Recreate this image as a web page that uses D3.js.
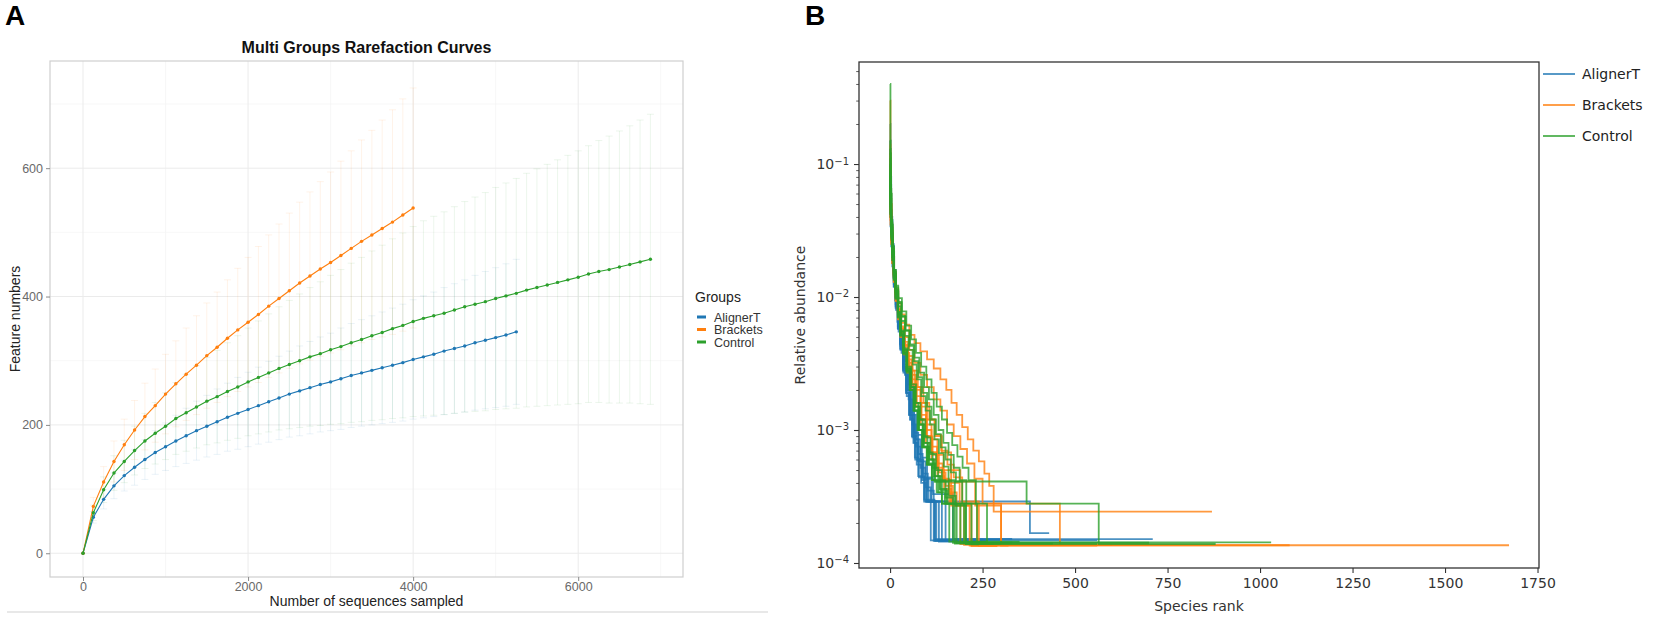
<!DOCTYPE html>
<html>
<head>
<meta charset="utf-8">
<script src="https://cdn.jsdelivr.net/npm/d3@7"></script>
<style>
  body { margin: 0; background: #fff; }
  svg { display: block; }
</style>
</head>
<body>
<div id="d3-container"></div>
<script>
/**
 * CONSTANTS
 * */
const width = 1654, height = 624;

const groups = ["AlignerT", "Brackets", "Control"];
const colors = ["#1f77b4", "#ff7f0e", "#2ca02c"];

/**
 * PANEL A DATA - rarefaction (mean +/- sd per sampling depth)
 * */
const depths = [0,125,250,375,500,625,750,875,1000,1125,1250,1375,1500,1625,1750,1875,
  2000,2125,2250,2375,2500,2625,2750,2875,3000,3125,3250,3375,3500,3625,3750,3875,
  4000,4125,4250,4375,4500,4625,4750,4875,5000,5125,5250,5375,5500,5625,5750,5875,
  6000,6125,6250,6375,6500,6625,6750,6875];

const alignerMean = [0,56,84,105,121,134,146,157,166,175,183,191,198,205,212,218,224,230,236,242,
  248,253,258,263,267,272,277,281,285,289,293,297,302,306,310,315,319,323,328,332,336,340,345];
const bracketsMean = [0,73,111,143,169,192,213,230,248,264,279,293,308,321,335,348,360,372,385,397,
  409,421,432,443,453,464,475,486,496,506,516,527,538];
const controlMean = [0,63,99,125,143,160,175,187,198,210,219,228,237,244,252,259,267,274,281,288,
  294,300,306,311,317,322,328,333,339,344,350,355,361,366,370,374,379,384,388,392,397,401,405,410,
  414,418,422,426,430,435,439,442,446,450,454,458];

const alignerSd = [0,9,15,20,24,28,31,34,37,40,43,46,48,51,53,56,58,60,63,65,67,70,72,74,76,79,
  81,83,85,87,89,91,93,95,97,99,101,103,105,107,109,111,113];
const bracketsSd = [0,14,24,32,40,46,52,57,62,67,72,77,82,86,91,96,101,106,111,116,121,126,131,
  136,141,147,152,158,163,169,175,181,187];
const controlSd = [0,12,20,27,33,38,43,48,52,56,60,64,68,72,76,80,84,88,92,96,100,104,108,112,116,
  120,124,128,132,136,140,144,148,152,155,158,161,164,167,170,173,176,179,182,185,188,191,194,197,
  200,204,208,212,216,221,226];

const xTicksA = [0, 2000, 4000, 6000];
const xMinorA = [1000, 3000, 5000, 7000];
const yTicksA = [0, 200, 400, 600];
const yMinorA = [100, 300, 500, 700];

/**
 * PANEL B DATA - rank abundance, one array of [rank, relative abundance] per sample
 * (abundance holds from that rank on, last pair closes the tail)
 * */
const alignerSamples = [
  [[0,0.15],[1,0.07],[2,0.045],[4,0.03],[7,0.02],[11,0.013],[16,0.0088],[22,0.006],[29,0.0041],[36,0.0028],[44,0.0019],[52,0.0013],[60,0.00088],[68,0.0006],[78,0.00044],[92,0.0003],[120,0.000151],[710,0.000151]],
  [[0,0.09],[1,0.05],[3,0.03],[6,0.019],[10,0.013],[15,0.0088],[21,0.006],[28,0.0041],[35,0.0028],[43,0.0019],[51,0.0013],[59,0.0009],[67,0.00062],[76,0.00045],[92,0.00029],[378,0.000168],[430,0.000168]],
  [[0,0.2],[1,0.08],[3,0.04],[6,0.024],[10,0.015],[15,0.0098],[21,0.0065],[28,0.0043],[36,0.0029],[45,0.0019],[55,0.0012],[65,0.0008],[75,0.00058],[88,0.00044],[100,0.00029],[118,0.000147],[260,0.000147]],
  [[0,0.06],[1,0.04],[3,0.027],[6,0.018],[10,0.012],[16,0.008],[23,0.0055],[31,0.0038],[40,0.0026],[50,0.0017],[60,0.0011],[70,0.00075],[82,0.00052],[95,0.00037],[110,0.00029],[132,0.000145],[230,0.000145]],
  [[0,0.11],[1,0.06],[3,0.036],[6,0.023],[10,0.015],[15,0.01],[22,0.0068],[30,0.0046],[39,0.0031],[49,0.002],[59,0.0013],[70,0.00085],[82,0.00058],[96,0.00043],[112,0.00029],[150,0.000149],[300,0.000149]],
  [[0,0.08],[1,0.045],[3,0.03],[5,0.02],[9,0.014],[14,0.0095],[20,0.0065],[27,0.0044],[35,0.003],[44,0.002],[54,0.00135],[64,0.0009],[74,0.0006],[86,0.00042],[98,0.00029],[122,0.000146],[200,0.000146]],
  [[0,0.13],[1,0.065],[3,0.038],[6,0.025],[10,0.016],[15,0.011],[22,0.0072],[30,0.0049],[40,0.0033],[51,0.0022],[62,0.0014],[74,0.00092],[86,0.00062],[100,0.00044],[116,0.00033],[170,0.000152],[330,0.000152]],
  [[0,0.07],[1,0.042],[3,0.028],[6,0.019],[10,0.0125],[15,0.0085],[21,0.0058],[28,0.004],[36,0.0027],[45,0.0018],[54,0.0012],[63,0.0008],[72,0.00055],[84,0.0004],[96,0.00029],[110,0.000148],[560,0.000148]],
  [[0,0.1],[1,0.055],[3,0.033],[6,0.021],[10,0.014],[15,0.0095],[21,0.0066],[28,0.0045],[36,0.003],[45,0.002],[55,0.0013],[66,0.00085],[77,0.0006],[90,0.00043],[104,0.00029],[125,0.00015],[250,0.00015]],
  [[0,0.05],[1,0.034],[3,0.024],[6,0.017],[10,0.012],[15,0.0083],[21,0.0058],[28,0.0041],[36,0.0029],[45,0.002],[55,0.0014],[65,0.00095],[76,0.00066],[88,0.00047],[102,0.00035],[118,0.00029],[140,0.000146],[210,0.000146]]
];
const bracketsSamples = [
  [[0,0.3],[1,0.1],[2,0.05],[4,0.03],[7,0.02],[11,0.014],[16,0.0098],[22,0.007],[30,0.0051],[40,0.0038],[52,0.0028],[66,0.0021],[82,0.0016],[100,0.0012],[120,0.0009],[140,0.00068],[165,0.0005],[190,0.00041],[230,0.00027],[300,0.000136],[1673,0.000136]],
  [[0,0.07],[1,0.04],[3,0.027],[6,0.019],[10,0.0145],[15,0.0115],[22,0.009],[30,0.0074],[40,0.0062],[52,0.0052],[66,0.0045],[82,0.0039],[100,0.0034],[118,0.0029],[136,0.0024],[152,0.002],[166,0.0016],[180,0.0013],[195,0.00105],[210,0.00085],[225,0.0007],[240,0.00058],[255,0.00047],[268,0.00038],[280,0.000243],[870,0.000243]],
  [[0,0.1],[1,0.05],[3,0.032],[6,0.021],[10,0.015],[15,0.011],[22,0.0082],[30,0.0064],[40,0.005],[52,0.004],[66,0.0032],[82,0.0026],[100,0.0021],[118,0.0017],[136,0.0014],[154,0.0011],[172,0.0009],[190,0.00072],[208,0.00056],[228,0.00043],[250,0.00028],[300,0.000136],[1080,0.000136]],
  [[0,0.05],[1,0.035],[3,0.025],[6,0.018],[10,0.013],[15,0.0095],[21,0.007],[29,0.0052],[38,0.0039],[48,0.0029],[60,0.0022],[72,0.0016],[85,0.0012],[100,0.00088],[115,0.00065],[132,0.00048],[150,0.00038],[170,0.00027],[215,0.000135],[560,0.000135]],
  [[0,0.12],[1,0.06],[3,0.034],[6,0.022],[10,0.015],[15,0.0105],[21,0.0075],[28,0.0055],[37,0.004],[47,0.003],[58,0.0022],[70,0.0016],[83,0.0012],[97,0.0009],[112,0.00068],[128,0.0005],[146,0.00042],[165,0.00028],[200,0.000137],[270,0.000137]],
  [[0,0.09],[1,0.05],[3,0.031],[6,0.021],[10,0.0145],[15,0.0102],[21,0.0074],[29,0.0054],[38,0.004],[48,0.003],[59,0.0022],[71,0.0016],[84,0.0012],[98,0.0009],[112,0.00068],[127,0.00052],[143,0.00042],[160,0.00028],[459,0.000138],[700,0.000138]],
  [[0,0.06],[1,0.038],[3,0.026],[6,0.018],[10,0.013],[15,0.0093],[21,0.0068],[28,0.005],[37,0.0037],[47,0.0027],[58,0.002],[70,0.0015],[83,0.0011],[97,0.0008],[112,0.0006],[128,0.00045],[146,0.00036],[165,0.00027],[190,0.000139],[310,0.000139]],
  [[0,0.14],[1,0.065],[3,0.036],[6,0.023],[10,0.0155],[15,0.011],[21,0.008],[28,0.0058],[37,0.0043],[47,0.0032],[58,0.0024],[70,0.0018],[83,0.0013],[97,0.001],[112,0.00075],[127,0.00056],[142,0.00043],[160,0.00034],[180,0.00027],[220,0.000134],[290,0.000134]],
  [[0,0.08],[1,0.045],[3,0.03],[6,0.02],[10,0.0145],[15,0.0106],[21,0.0079],[29,0.006],[38,0.0046],[49,0.0036],[61,0.0028],[75,0.0021],[90,0.0016],[106,0.0012],[122,0.00092],[138,0.0007],[155,0.00055],[172,0.00044],[195,0.00029],[240,0.000135],[320,0.000135]],
  [[0,0.11],[1,0.055],[3,0.033],[6,0.022],[10,0.015],[15,0.0108],[21,0.0078],[28,0.0058],[37,0.0044],[47,0.0034],[58,0.0026],[70,0.002],[83,0.0015],[97,0.0011],[112,0.00085],[128,0.00065],[145,0.0005],[165,0.0004],[188,0.00028],[235,0.000137],[600,0.000137]]
];
const controlSamples = [
  [[0,0.4],[1,0.12],[2,0.06],[4,0.035],[7,0.022],[11,0.015],[16,0.0105],[22,0.0075],[29,0.0055],[37,0.004],[46,0.0029],[56,0.0021],[67,0.0015],[79,0.0011],[92,0.0008],[106,0.0006],[120,0.00045],[136,0.00035],[155,0.00028],[190,0.000143],[1030,0.000143]],
  [[0,0.1],[1,0.055],[3,0.033],[6,0.022],[10,0.015],[15,0.0105],[21,0.0074],[28,0.0053],[36,0.0039],[45,0.0028],[55,0.002],[66,0.0014],[78,0.001],[90,0.00075],[104,0.00055],[120,0.00041],[369,0.00028],[564,0.000139],[880,0.000139]],
  [[0,0.07],[1,0.042],[3,0.028],[6,0.019],[10,0.0135],[15,0.0097],[21,0.007],[28,0.0051],[36,0.0037],[45,0.0027],[55,0.002],[66,0.0014],[78,0.001],[91,0.00075],[105,0.00056],[122,0.00041],[140,0.00028],[175,0.00014],[300,0.00014]],
  [[0,0.15],[1,0.07],[3,0.038],[6,0.024],[10,0.016],[15,0.011],[21,0.0077],[28,0.0055],[36,0.004],[45,0.0029],[55,0.0021],[66,0.0015],[77,0.0011],[89,0.0008],[102,0.0006],[117,0.00045],[134,0.00036],[152,0.00028],[180,0.000141],[250,0.000141]],
  [[0,0.09],[1,0.05],[3,0.031],[6,0.021],[10,0.0145],[15,0.0102],[21,0.0073],[28,0.0052],[36,0.0038],[44,0.0028],[53,0.002],[63,0.0014],[74,0.001],[86,0.00074],[99,0.00055],[113,0.00042],[130,0.00034],[148,0.00028],[170,0.000142],[700,0.000142]],
  [[0,0.06],[1,0.04],[3,0.027],[6,0.019],[10,0.0135],[15,0.0098],[21,0.0071],[28,0.0052],[36,0.0038],[45,0.0028],[55,0.0021],[65,0.0016],[76,0.0012],[88,0.0009],[101,0.00068],[115,0.00052],[130,0.00042],[150,0.00031],[170,0.00028],[200,0.000144],[260,0.000144]],
  [[0,0.12],[1,0.06],[3,0.035],[6,0.023],[10,0.0155],[15,0.0108],[21,0.0077],[28,0.0056],[37,0.0041],[47,0.003],[58,0.0022],[70,0.0016],[82,0.0012],[95,0.00088],[109,0.00066],[124,0.0005],[140,0.00041],[158,0.00032],[178,0.00027],[205,0.000139],[560,0.000139]],
  [[0,0.08],[1,0.046],[3,0.03],[6,0.02],[10,0.014],[15,0.01],[21,0.0072],[28,0.0052],[36,0.0038],[45,0.0028],[55,0.002],[65,0.0014],[76,0.001],[88,0.00074],[100,0.00055],[113,0.00042],[126,0.00034],[140,0.00028],[160,0.000145],[350,0.000145]],
  [[0,0.11],[1,0.058],[3,0.034],[6,0.022],[10,0.0155],[15,0.0122],[22,0.0098],[32,0.0078],[44,0.0061],[57,0.0048],[70,0.0038],[84,0.003],[98,0.0024],[112,0.0019],[126,0.0015],[140,0.0012],[154,0.00095],[168,0.00077],[182,0.00063],[196,0.00052],[212,0.00042],[232,0.00028],[262,0.000142],[330,0.000142]],
  [[0,0.07],[1,0.043],[3,0.029],[6,0.02],[10,0.0145],[15,0.0113],[22,0.009],[31,0.0071],[42,0.0056],[54,0.0044],[66,0.0035],[79,0.0027],[92,0.0021],[105,0.0017],[118,0.0013],[131,0.001],[144,0.0008],[158,0.00065],[172,0.00052],[188,0.00042],[206,0.00028],[235,0.00014],[280,0.00014]],
  [[0,0.13],[1,0.065],[3,0.037],[6,0.024],[10,0.016],[15,0.0118],[22,0.0092],[31,0.0072],[41,0.0056],[52,0.0043],[64,0.0033],[76,0.0025],[88,0.0019],[100,0.0015],[112,0.0012],[124,0.00093],[137,0.00074],[150,0.0006],[164,0.00048],[178,0.00041],[195,0.00028],[220,0.000138],[240,0.000138]],
  [[0,0.085],[1,0.048],[3,0.031],[6,0.021],[10,0.0148],[15,0.011],[22,0.0085],[30,0.0066],[40,0.0051],[50,0.004],[61,0.0031],[72,0.0024],[84,0.0018],[96,0.0014],[108,0.0011],[120,0.00085],[132,0.00067],[145,0.00053],[158,0.00042],[175,0.00028],[205,0.00014],[440,0.00014]]
];

const xTicksB = [0, 250, 500, 750, 1000, 1250, 1500, 1750];
const yExpB = [-1, -2, -3, -4];

let svg;

init();

function init() {
  svg = d3.select("#d3-container")
    .append("svg")
    .attr("width", width)
    .attr("height", height);

  svg.append("rect").attr("width", width).attr("height", height).attr("fill", "#fff");

  // panel letters
  svg.selectAll("text.panel")
    .data([["A", 5], ["B", 805]])
    .join("text")
    .attr("class", "panel")
    .attr("x", d => d[1])
    .attr("y", 25)
    .attr("font-family", "Liberation Sans, Arial, sans-serif")
    .attr("font-weight", "bold")
    .attr("font-size", 28)
    .text(d => d[0]);

  // faint rule under panel A
  svg.append("line")
    .attr("x1", 7).attr("x2", 768).attr("y1", 612).attr("y2", 612)
    .attr("stroke", "#e8e8e8").attr("stroke-width", 2);

  drawRarefaction();
  drawRankAbundance();
}

/**
 * PANEL A
 * */
function drawRarefaction() {
  const left = 50, right = 683, top = 61, bottom = 577;
  const font = "Liberation Sans, Arial, Helvetica, sans-serif";

  const x = d3.scaleLinear().domain([-400, 7270]).range([left, right]);
  const y = d3.scaleLinear().domain([-37, 767]).range([bottom, top]);

  const g = svg.append("g");

  // grid
  g.selectAll("line.vminor").data(xMinorA).join("line")
    .attr("x1", d => x(d)).attr("x2", d => x(d)).attr("y1", top).attr("y2", bottom)
    .attr("stroke", "#f3f3f3").attr("stroke-width", 0.7);
  g.selectAll("line.hminor").data(yMinorA).join("line")
    .attr("y1", d => y(d)).attr("y2", d => y(d)).attr("x1", left).attr("x2", right)
    .attr("stroke", "#f3f3f3").attr("stroke-width", 0.7);
  g.selectAll("line.vmajor").data(xTicksA).join("line")
    .attr("x1", d => x(d)).attr("x2", d => x(d)).attr("y1", top).attr("y2", bottom)
    .attr("stroke", "#ebebeb").attr("stroke-width", 1);
  g.selectAll("line.hmajor").data(yTicksA).join("line")
    .attr("y1", d => y(d)).attr("y2", d => y(d)).attr("x1", left).attr("x2", right)
    .attr("stroke", "#ebebeb").attr("stroke-width", 1);

  const series = [
    { name: groups[0], color: colors[0], mean: alignerMean, sd: alignerSd },
    { name: groups[1], color: colors[1], mean: bracketsMean, sd: bracketsSd },
    { name: groups[2], color: colors[2], mean: controlMean, sd: controlSd }
  ].map(s => ({ ...s, pts: s.mean.map((m, i) => ({ d: depths[i], m: m, sd: s.sd[i] })) }));

  // error bars
  series.forEach(s => {
    const eb = g.append("g")
      .attr("stroke", s.color).attr("stroke-opacity", 0.1).attr("stroke-width", 0.9);
    const pts = s.pts.filter(p => p.sd > 0);
    eb.selectAll("line.bar").data(pts).join("line")
      .attr("x1", p => x(p.d)).attr("x2", p => x(p.d))
      .attr("y1", p => y(p.m - p.sd)).attr("y2", p => y(p.m + p.sd));
    eb.selectAll("line.capTop").data(pts).join("line")
      .attr("x1", p => x(p.d) - 3.5).attr("x2", p => x(p.d) + 3.5)
      .attr("y1", p => y(p.m + p.sd)).attr("y2", p => y(p.m + p.sd));
    eb.selectAll("line.capBot").data(pts).join("line")
      .attr("x1", p => x(p.d) - 3.5).attr("x2", p => x(p.d) + 3.5)
      .attr("y1", p => y(p.m - p.sd)).attr("y2", p => y(p.m - p.sd));
  });

  const line = d3.line().x(p => x(p.d)).y(p => y(p.m));

  series.forEach(s => {
    g.append("path")
      .datum(s.pts)
      .attr("fill", "none")
      .attr("stroke", s.color)
      .attr("stroke-width", 1.1)
      .attr("d", line);
    g.selectAll(null).data(s.pts).join("circle")
      .attr("cx", p => x(p.d)).attr("cy", p => y(p.m))
      .attr("r", 1.7)
      .attr("fill", s.color);
  });

  // panel border
  g.append("rect")
    .attr("x", left).attr("y", top)
    .attr("width", right - left).attr("height", bottom - top)
    .attr("fill", "none").attr("stroke", "#cfcfcf").attr("stroke-width", 1.2);

  // axes
  const xAxis = g.append("g")
    .attr("transform", `translate(0,${bottom})`)
    .call(d3.axisBottom(x).tickValues(xTicksA).tickSize(4).tickPadding(1).tickFormat(d3.format("d")));
  const yAxis = g.append("g")
    .attr("transform", `translate(${left},0)`)
    .call(d3.axisLeft(y).tickValues(yTicksA).tickSize(4).tickPadding(3).tickFormat(d3.format("d")));
  [xAxis, yAxis].forEach(a => {
    a.select(".domain").remove();
    a.selectAll(".tick line").attr("stroke", "#8a8a8a");
    a.selectAll(".tick text")
      .attr("fill", "#6a6a6a")
      .attr("font-family", font)
      .attr("font-size", 12.5);
  });

  // title and axis titles
  g.append("text")
    .attr("x", (left + right) / 2).attr("y", 53)
    .attr("text-anchor", "middle")
    .attr("font-family", font).attr("font-weight", "bold").attr("font-size", 16)
    .attr("fill", "#111")
    .text("Multi Groups Rarefaction Curves");
  g.append("text")
    .attr("x", (left + right) / 2).attr("y", 606)
    .attr("text-anchor", "middle")
    .attr("font-family", font).attr("font-size", 14).attr("fill", "#222")
    .text("Number of sequences sampled");
  g.append("text")
    .attr("transform", `translate(20,${(top + bottom) / 2}) rotate(-90)`)
    .attr("text-anchor", "middle")
    .attr("font-family", font).attr("font-size", 14).attr("fill", "#222")
    .text("Feature numbers");

  // legend
  const lg = g.append("g").attr("transform", "translate(695,302)");
  lg.append("text")
    .attr("font-family", font).attr("font-size", 14).attr("fill", "#222")
    .text("Groups");
  const items = lg.selectAll("g.item").data(series).join("g")
    .attr("class", "item")
    .attr("transform", (d, i) => `translate(0,${15 + i * 12.5})`);
  items.append("line")
    .attr("x1", 2).attr("x2", 11)
    .attr("stroke", d => d.color).attr("stroke-width", 3);
  items.append("text")
    .attr("x", 19).attr("y", 4.5)
    .attr("font-family", font).attr("font-size", 12.5).attr("fill", "#333")
    .text(d => d.name);
}

/**
 * PANEL B
 * */
function drawRankAbundance() {
  const left = 859, right = 1539, top = 62, bottom = 568;
  const font = "DejaVu Sans, sans-serif";

  const x = d3.scaleLinear().domain([-84, 1754]).range([left, right]);
  const y = d3.scaleLog().domain([9.17e-5, 0.585]).range([bottom, top]);

  const g = svg.append("g");

  g.append("clipPath").attr("id", "clipB")
    .append("rect")
    .attr("x", left).attr("y", top)
    .attr("width", right - left).attr("height", bottom - top);

  const line = d3.line()
    .curve(d3.curveStepAfter)
    .x(d => x(d[0]))
    .y(d => y(d[1]));

  const sets = [alignerSamples, bracketsSamples, controlSamples];
  const lines = g.append("g").attr("clip-path", "url(#clipB)");
  sets.forEach((samples, gi) => {
    lines.selectAll(null).data(samples).join("path")
      .attr("fill", "none")
      .attr("stroke", colors[gi])
      .attr("stroke-opacity", 0.8)
      .attr("stroke-width", 1.8)
      .attr("d", line);
  });

  // frame
  g.append("rect")
    .attr("x", left).attr("y", top)
    .attr("width", right - left).attr("height", bottom - top)
    .attr("fill", "none").attr("stroke", "#333").attr("stroke-width", 1.3);

  // x axis
  const xAxis = g.append("g")
    .attr("transform", `translate(0,${bottom})`)
    .call(d3.axisBottom(x).tickValues(xTicksB).tickSize(5).tickPadding(5).tickFormat(d3.format("d")));
  xAxis.select(".domain").remove();
  xAxis.selectAll(".tick line").attr("stroke", "#333").attr("stroke-width", 1.1);
  xAxis.selectAll(".tick text")
    .attr("fill", "#333").attr("font-family", font).attr("font-size", 14);

  // y axis, major ticks with 10^n labels
  const majors = yExpB.map(e => Math.pow(10, e));
  const yAxis = g.append("g")
    .attr("transform", `translate(${left},0)`)
    .call(d3.axisLeft(y).tickValues(majors).tickSize(5).tickPadding(5).tickFormat(""));
  yAxis.select(".domain").remove();
  yAxis.selectAll(".tick line").attr("stroke", "#333").attr("stroke-width", 1.1);
  yAxis.selectAll(".tick text")
    .attr("fill", "#333").attr("font-family", font).attr("font-size", 14)
    .each(function (d, i) {
      const t = d3.select(this);
      t.append("tspan").text("10");
      t.append("tspan")
        .attr("dy", "-0.45em")
        .attr("font-size", 10)
        .text("\u2212" + Math.abs(yExpB[i]));
    });

  // minor ticks
  const [lo, hi] = y.domain();
  const minors = [];
  yExpB.concat([0]).forEach(e => {
    [2, 3, 4, 5, 6, 7, 8, 9].forEach(k => {
      const v = k * Math.pow(10, e - 1);
      if (v > lo && v < hi) minors.push(v);
    });
  });
  g.append("g")
    .attr("transform", `translate(${left},0)`)
    .call(d3.axisLeft(y).tickValues(minors).tickSize(2.8).tickFormat(""))
    .call(a => a.select(".domain").remove())
    .selectAll(".tick line").attr("stroke", "#333").attr("stroke-width", 0.8);

  g.append("text")
    .attr("x", (left + right) / 2).attr("y", 611)
    .attr("text-anchor", "middle")
    .attr("font-family", font).attr("font-size", 14).attr("fill", "#333")
    .text("Species rank");
  g.append("text")
    .attr("transform", `translate(805,${(top + bottom) / 2}) rotate(-90)`)
    .attr("text-anchor", "middle")
    .attr("font-family", font).attr("font-size", 14).attr("fill", "#333")
    .text("Relative abundance");

  // legend
  const lg = g.append("g").attr("transform", "translate(1543,74)");
  const items = lg.selectAll("g").data(groups).join("g")
    .attr("transform", (d, i) => `translate(0,${i * 31})`);
  items.append("line")
    .attr("x1", 0).attr("x2", 32)
    .attr("stroke", (d, i) => colors[i])
    .attr("stroke-opacity", 0.75)
    .attr("stroke-width", 2);
  items.append("text")
    .attr("x", 39).attr("y", 5)
    .attr("font-family", font).attr("font-size", 14).attr("fill", "#222")
    .text(d => d);
}
</script>
</body>
</html>
